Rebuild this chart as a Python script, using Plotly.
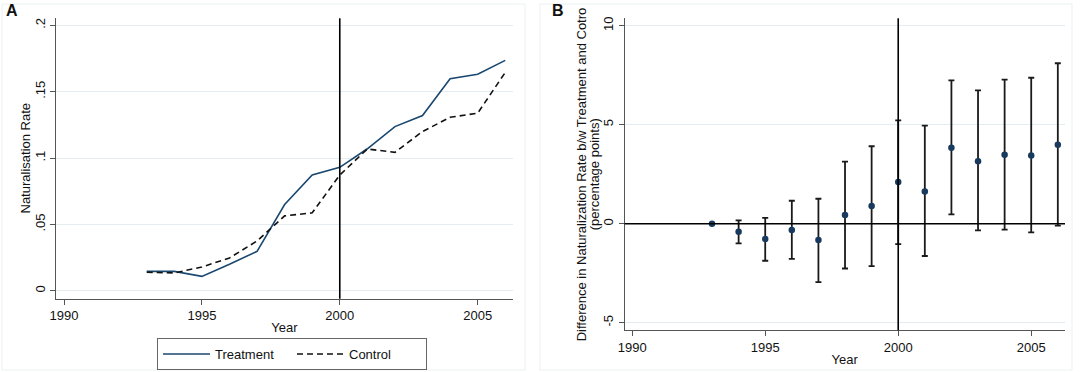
import plotly.graph_objects as go

years = list(range(1993, 2007))
treatment = [0.0146, 0.0146, 0.0108, 0.0199, 0.0297, 0.0650, 0.0872, 0.0930,
             0.1070, 0.1237, 0.1320, 0.1597, 0.1632, 0.1736]
control = [0.0139, 0.0134, 0.0179, 0.0247, 0.0375, 0.0564, 0.0587, 0.0872,
           0.1068, 0.1043, 0.1200, 0.1307, 0.1338, 0.1645]

diff_est = [0.0, -0.40, -0.77, -0.32, -0.82, 0.44, 0.89, 2.10, 1.63, 3.84, 3.16, 3.48, 3.45, 3.99]
diff_hi = [None, 0.17, 0.30, 1.16, 1.26, 3.13, 3.91, 5.22, 4.95, 7.24, 6.73, 7.27, 7.37, 8.10]
diff_lo = [None, -0.99, -1.87, -1.77, -2.95, -2.26, -2.14, -1.03, -1.63, 0.47, -0.34, -0.30, -0.44, -0.10]

x_ticks = [1990, 1995, 2000, 2005]
a_yticks = [0, 0.05, 0.1, 0.15, 0.2]
a_yticktext = ["0", ".05", ".1", ".15", ".2"]
b_yticks = [-5, 0, 5, 10]
b_yticktext = ["-5", "0", "5", "10"]

W, H = 1084, 372
FONT = "Liberation Sans, Arial, sans-serif"
NAVY = "#1a476f"
GRID = "#E3ECEF"
AXC = "#555555"

plus = [None if h is None else h - e for h, e in zip(diff_hi, diff_est)]
minus = [None if l is None else e - l for l, e in zip(diff_lo, diff_est)]

fig = go.Figure()
fig.add_trace(go.Scatter(x=years, y=treatment, mode="lines", name="Treatment",
                         line=dict(color=NAVY, width=1.6), xaxis="x", yaxis="y"))
fig.add_trace(go.Scatter(x=years, y=control, mode="lines", name="Control",
                         line=dict(color="#111111", width=1.6, dash="6px,4px"),
                         xaxis="x", yaxis="y"))
fig.add_trace(go.Scatter(x=years, y=diff_est, mode="markers", showlegend=False,
                         marker=dict(color="#173a5e", size=6.5),
                         error_y=dict(type="data", array=plus, arrayminus=minus,
                                      color="#1a1a1a", thickness=1.8, width=3),
                         xaxis="x2", yaxis="y2"))

xcommon = dict(range=[1989.71, 2006.27], tickvals=x_ticks, ticks="outside", ticklen=5,
               tickcolor=AXC, showline=True, linecolor=AXC, linewidth=1, automargin=False,
               showgrid=False, zeroline=False, tickfont=dict(size=13, color="#111"),
               title=dict(text="Year", font=dict(size=13, color="#111"), standoff=0))
ycommon = dict(ticks="outside", ticklen=5, tickcolor=AXC, showline=True, linecolor=AXC,
               linewidth=1, showgrid=True, gridcolor=GRID, gridwidth=1, zeroline=False,
               automargin=False, tickangle=-90, tickfont=dict(size=13, color="#111"))

A_TOP, A_BOT = 18.3, 298.7
B_TOP, B_BOT = 18.3, 330.3

fig.update_layout(
    width=W, height=H,
    margin=dict(l=0, r=0, t=0, b=0, autoexpand=False),
    paper_bgcolor="white", plot_bgcolor="white",
    font=dict(family=FONT, size=13, color="#111"),
    xaxis=dict(domain=[56 / W, 512.7 / W], anchor="y", **xcommon),
    yaxis=dict(domain=[(H - A_BOT) / H, (H - A_TOP) / H], anchor="x",
               range=[-0.006, 0.2053], tickvals=a_yticks, ticktext=a_yticktext,
               **ycommon),
    xaxis2=dict(domain=[624.5 / W, 1065 / W], anchor="y2", **xcommon),
    yaxis2=dict(domain=[(H - B_BOT) / H, (H - B_TOP) / H], anchor="x2",
                range=[-5.38, 10.37], tickvals=b_yticks, ticktext=b_yticktext,
                **ycommon),
    legend=dict(orientation="h", x=157 / W, xanchor="left", y=(H - 354) / H,
                yanchor="middle", bordercolor="#666", borderwidth=1,
                font=dict(size=13), entrywidth=72, itemwidth=47, bgcolor="white"),
    showlegend=True,
)

shapes = [
    dict(type="rect", xref="paper", yref="paper", x0=2 / W, x1=525 / W, y0=(H - 370) / H,
         y1=(H - 4) / H, line=dict(color="#EBF0F2", width=1), layer="below"),
    dict(type="rect", xref="paper", yref="paper", x0=540 / W, x1=1072 / W, y0=(H - 370) / H,
         y1=(H - 4) / H, line=dict(color="#EBF0F2", width=1), layer="below"),
    dict(type="line", xref="x", yref="y domain", x0=2000, x1=2000, y0=0, y1=1,
         line=dict(color="black", width=1.6)),
    dict(type="line", xref="x2", yref="y2 domain", x0=2000, x1=2000, y0=0, y1=1,
         line=dict(color="black", width=1.6)),
    dict(type="line", xref="x2 domain", yref="y2", x0=0, x1=1, y0=0, y1=0,
         line=dict(color="black", width=1.4)),
]
fig.update_layout(shapes=shapes)

def ann(text, x, y, size=13, angle=0, xanchor="center", yanchor="middle"):
    fig.add_annotation(text=text, xref="paper", yref="paper", x=x / W, y=(H - y) / H,
                       xanchor=xanchor, yanchor=yanchor, showarrow=False, textangle=angle,
                       font=dict(size=size, color="#111"))

ann("<b>A</b>", 4, 10.5, size=16, xanchor="left")
ann("<b>B</b>", 550, 10.5, size=16, xanchor="left")
ann("Naturalisation Rate", 25, (A_TOP + A_BOT) / 2, angle=-90)
ann("Difference in Naturalization Rate b/w Treatment and Cotro", 581, (B_TOP + B_BOT) / 2, angle=-90)
ann("(percentage points)", 594, (B_TOP + B_BOT) / 2, angle=-90)

fig.write_html("out.html", config={"displayModeBar": False},
               post_script="document.body.style.margin='0';document.body.style.padding='0';document.body.style.overflow='hidden';")
